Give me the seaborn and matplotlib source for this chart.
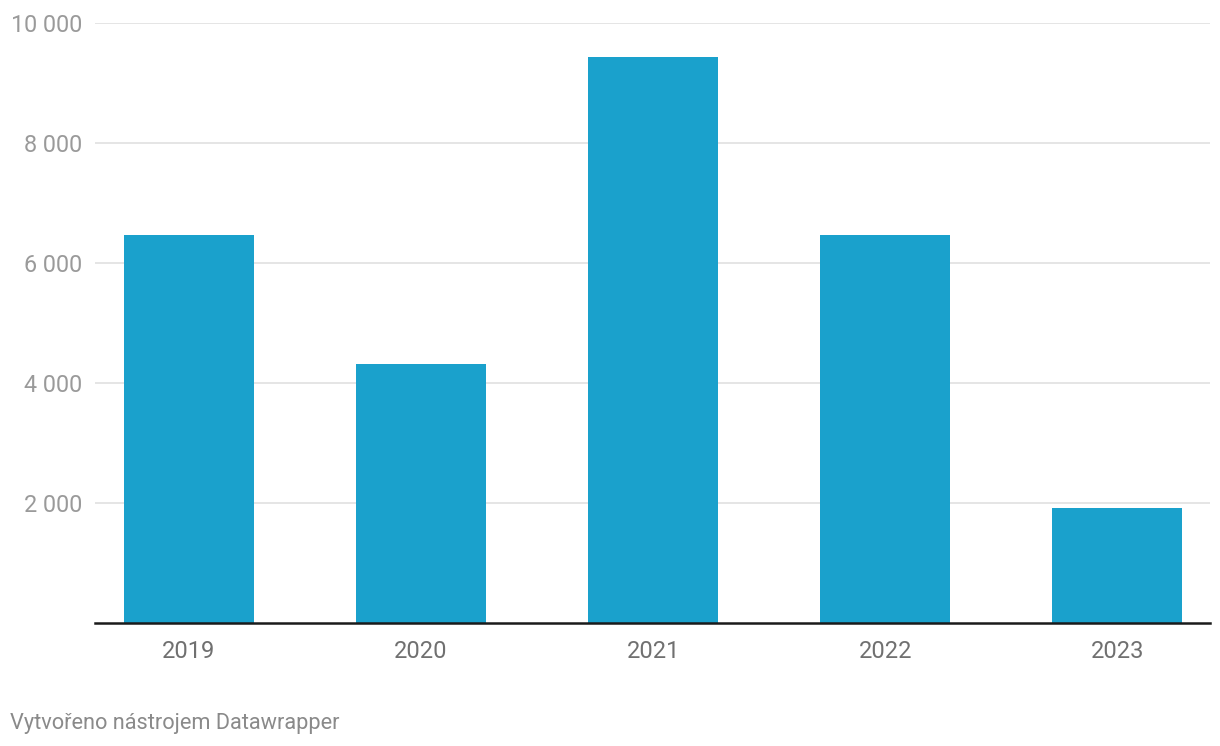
import matplotlib
matplotlib.use("Agg")
import matplotlib.pyplot as plt
import seaborn as sns
import pandas as pd

years = ["2019", "2020", "2021", "2022", "2023"]
values = [6470, 4320, 9440, 6470, 1920]
yticks = [2000, 4000, 6000, 8000, 10000]
ytick_labels = ["2 000", "4 000", "6 000", "8 000", "10 000"]
footer = "Vytvořeno nástrojem Datawrapper"

sns.set_theme(style="white")
plt.rcParams["font.family"] = ["Roboto", "DejaVu Sans"]

df = pd.DataFrame({"year": years, "value": values})

fig = plt.figure(figsize=(12.2, 7.46), dpi=100)
ax = fig.add_axes([95 / 1220, 1 - 623 / 746, (1210 - 95) / 1220, 600 / 746])

sns.barplot(data=df, x="year", y="value", color="#1aa1cc", saturation=1,
            width=0.56, ax=ax, zorder=3)
for p in ax.patches:
    p.set_edgecolor("none")

ax.set_xlim(-0.405, 4.40)
ax.set_ylim(0, 10000)
ax.set_yticks(yticks)
ax.set_yticklabels(ytick_labels)
ax.yaxis.grid(True, color="#e3e3e3", linewidth=1.3, zorder=0)
ax.set_axisbelow(True)

for s in ["top", "right", "left"]:
    ax.spines[s].set_visible(False)
ax.spines["bottom"].set_color("#1a1a1a")
ax.spines["bottom"].set_linewidth(1.8)
ax.spines["bottom"].set_zorder(5)

ax.tick_params(axis="y", length=0, pad=9, labelsize=16.8, labelcolor="#9a9a9a")
ax.tick_params(axis="x", length=0, pad=12.5, labelsize=17, labelcolor="#707070")
ax.set_xlabel("")
ax.set_ylabel("")

fig.text(10 / 1220, 1 - 723 / 746, footer, fontsize=15.7, color="#8a8a8a",
         ha="left", va="center")

fig.savefig("out.png", dpi=100, facecolor="white")
